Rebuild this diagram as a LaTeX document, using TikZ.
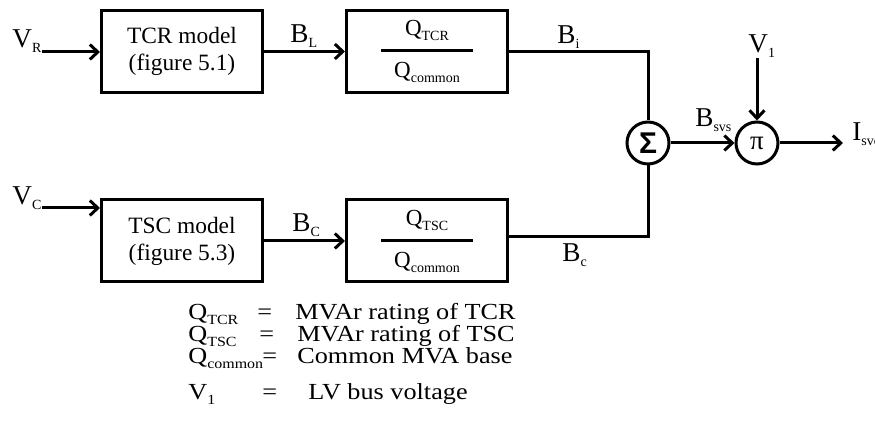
\documentclass[tikz,border=0pt]{standalone}
\usepackage{fontspec}
\setmainfont{Liberation Serif}
\newfontfamily\sumfont{Liberation Sans}
\newfontfamily\legfont[FakeStretch=1.14]{Liberation Serif}
\usetikzlibrary{positioning,arrows.meta}
\newcommand{\sbx}[1]{\raisebox{-2.5pt}{\fontsize{7}{7}\selectfont #1}}

\begin{document}
\begin{tikzpicture}[
    x=0.5pt, y=-0.5pt,
    block/.style={rectangle, draw, line width=1.5pt, minimum width=80.5pt,
                  minimum height=41pt, align=center, inner sep=2pt,
                  font=\fontsize{11.7}{13.5}\selectfont},
    ratio/.style={block, font=\fontsize{11.5}{10.5}\selectfont},
    junction/.style={circle, draw, line width=1.5pt, minimum size=21pt, inner sep=0pt},
    sig/.style={anchor=base west, inner sep=0pt, font=\fontsize{13.6}{14}\selectfont},
    leg/.style={anchor=base west, inner sep=0pt, font=\legfont\fontsize{11.5}{12}\selectfont},
    line/.style={line width=1.5pt},
    flow/.style={line, -{Straight Barb[length=4pt, width=7.5pt]}}]
  \useasboundingbox (0,0) rectangle (875,432);
  \node[block] (tcr)  at (182,51.5) {TCR model\\(figure 5.1)};
  \node[ratio] (qtcr) at (427,51.5) {Q\sbx{TCR}\\\rule[2.25pt]{46pt}{1.5pt}\\Q\sbx{common}};
  \node[block] (tsc)  at (182,241) {TSC model\\(figure 5.3)};
  \node[ratio] (qtsc) at (427,241) {Q\sbx{TSC}\\\rule[2.25pt]{46pt}{1.5pt}\\Q\sbx{common}};
  \node[junction] (sum)  at (648,143) {\sumfont\bfseries\fontsize{15}{15}\selectfont Σ};
  \node[junction] (prod) at (757,143) {\fontsize{13.5}{14}\selectfont π};
  % signal labels
  \node[sig] (vr)   at (12,48)   {V\sbx{R}};
  \node[sig] (vc)   at (12,205)  {V\sbx{C}};
  \node[sig] (bl)   at (290,43)  {B\sbx{L}};
  \node[sig] (bi)   at (557,44)  {B\sbx{i}};
  \node[sig] (bcap) at (292,232) {B\sbx{C}};
  \node[sig] (bc)   at (562,262) {B\sbx{c}};
  \node[sig] (bsvs) at (695,127) {B\sbx{svs}};
  \node[sig] (v1)   at (748,53)  {V\sbx{1}};
  \node[sig] (isvc) at (852,141) {I\sbx{svc}};
  \draw[flow] ([yshift=-2pt]vr.base east) -- ([yshift=-2pt]vr.base east -| tcr.west);
  \draw[flow] ([yshift=-1.5pt]vc.base east) -- ([yshift=-1.5pt]vc.base east -| tsc.west);
  \draw[flow] (tcr) -- (qtcr);
  \draw[flow] (tsc) -- (qtsc);
  \draw[line] (qtcr.east) -| (sum.north);
  \draw[line] ([yshift=2pt]qtsc.east) -| (sum.south);
  \draw[flow] (sum) -- (prod);
  \draw[flow] ([yshift=-2.5pt]v1.base -| prod.north) -- (prod.north);
  \draw[flow, shorten >=4.5pt] (prod) -- (prod -| isvc.west);
  % legend
  \node[leg] (kq1) at (188,320) {Q\sbx{TCR}};
  \node[leg] (ke1) at (257,320) {=};
  \node[leg] (kt1) at (295,320) {MVAr rating of TCR};
  \node[leg] (kq2) at (188,342) {Q\sbx{TSC}};
  \node[leg] (ke2) at (259,342) {=};
  \node[leg] (kt2) at (297,342) {MVAr rating of TSC};
  \node[leg] (kq3) at (188,364) {Q\sbx{common}};
  \node[leg] (ke3) at (262,364) {=};
  \node[leg] (kt3) at (297,364) {Common MVA base};
  \node[leg] (kq4) at (188,400) {V\sbx{1}};
  \node[leg] (ke4) at (262,400) {=};
  \node[leg] (kt4) at (308,400) {LV bus voltage};
\end{tikzpicture}
\end{document}
